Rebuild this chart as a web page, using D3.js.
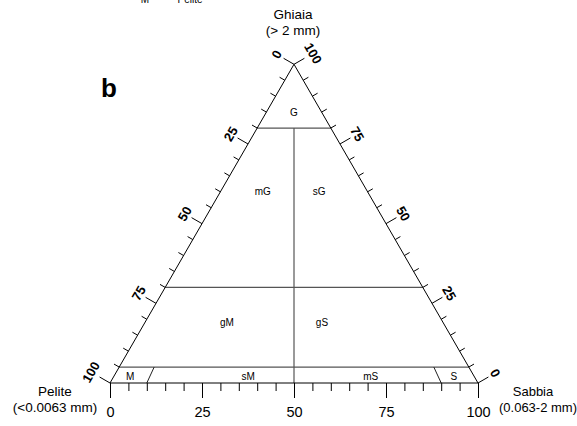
<!DOCTYPE html>
<html>
<head>
<meta charset="utf-8">
<script src="https://cdn.jsdelivr.net/npm/d3@7"></script>
<style>
  body { margin: 0; background: #fff; }
  text { font-family: Arial, "Liberation Sans", sans-serif; fill: #000; }
</style>
</head>
<body>
<svg id="chart" width="577" height="426"></svg>
<script>
// ticks along every side (percent)
const minorTicks = d3.range(0, 101, 5);
const majorTicks = [0, 25, 50, 75, 100];

// Folk class boundaries: gravel levels and sand/(sand+mud) ratios
const gravelLevels = [80, 30, 5];
const ratioLines = [
  { ratio: 0.5, from: 80 },
  { ratio: 0.1, from: 5 },
  { ratio: 0.9, from: 5 }
];

// class labels at (gravel %, sand %)
const classNames = ["G", "mG", "sG", "gM", "gS", "M", "sM", "mS", "S"];
const classGravel = [85, 60, 60, 19, 19, 1.9, 1.9, 1.9, 1.9];
const classSand = [7.5, 11.5, 26.8, 22.3, 48.1, 4.5, 36.6, 69.9, 92.5];

const svg = d3.select("#chart");

const xL = 110, xR = 478, yB = 383;
const side = xR - xL;
const yT = yB - side * Math.sqrt(3) / 2;

const x = d3.scaleLinear().domain([0, 100]).range([xL, xR]);
const yG = d3.scaleLinear().domain([0, 100]).range([yB, yT]);

// ternary point from gravel and sand percent
function pt(g, s) {
  return [x(s + g / 2), yG(g)];
}

const line = d3.line();

// internal class lines
const inner = svg.append("g")
  .attr("fill", "none")
  .attr("stroke", "#555")
  .attr("stroke-width", 1.2);

gravelLevels.forEach(g => {
  inner.append("path").attr("d", line([pt(g, 0), pt(g, 100 - g)]));
});

ratioLines.forEach(r => {
  inner.append("path")
    .attr("d", line([pt(r.from, (100 - r.from) * r.ratio), pt(0, 100 * r.ratio)]))
    .attr("stroke", r.ratio === 0.5 ? "#555" : "#222")
    .attr("stroke-width", r.ratio === 0.5 ? 1.2 : 1);
});

// triangle outline
svg.append("path")
  .attr("d", line([pt(0, 0), pt(0, 100), pt(100, 0)]) + "Z")
  .attr("fill", "none")
  .attr("stroke", "#000")
  .attr("stroke-width", 1);

// bottom axis (sand)
const bottomAxis = svg.append("g")
  .attr("transform", `translate(0,${yB})`)
  .call(d3.axisBottom(x)
    .tickValues(minorTicks)
    .tickSize(8)
    .tickPadding(0)
    .tickFormat(d => majorTicks.includes(d) ? d : ""));

bottomAxis.select(".domain").remove();
bottomAxis.selectAll(".tick line")
  .attr("stroke", "#000")
  .attr("y2", d => majorTicks.includes(d) ? 15 : 8);
bottomAxis.selectAll(".tick text")
  .attr("y", 29)
  .attr("dy", "0.32em")
  .style("font-size", "14.5px")
  .style("font-family", "Arial, 'Liberation Sans', sans-serif")
  .attr("fill", "#000");

// outward normals of the left and right sides
const nL = [-Math.sqrt(3) / 2, -0.5];
const nR = [Math.sqrt(3) / 2, -0.5];

function sideTicks(posFn, normal, labelFn, rotate) {
  const g = svg.append("g");
  g.selectAll("line")
    .data(minorTicks)
    .join("line")
    .attr("x1", d => posFn(d)[0])
    .attr("y1", d => posFn(d)[1])
    .attr("x2", d => posFn(d)[0] + normal[0] * (majorTicks.includes(d) ? 12 : 6))
    .attr("y2", d => posFn(d)[1] + normal[1] * (majorTicks.includes(d) ? 12 : 6))
    .attr("stroke", "#000")
    .attr("stroke-width", 1);

  g.selectAll("text")
    .data(majorTicks)
    .join("text")
    .attr("transform", d => {
      const p = posFn(d);
      const off = String(labelFn(d)).length > 2 ? 22 : 20;
      return `translate(${p[0] + normal[0] * off},${p[1] + normal[1] * off}) rotate(${rotate})`;
    })
    .attr("text-anchor", "middle")
    .attr("dy", "0.35em")
    .style("font-size", "13px")
    .style("font-weight", "bold")
    .text(labelFn);
}

// left: mud value m -> gravel = 100 - m, sand = 0
sideTicks(m => pt(100 - m, 0), nL, d => d, -60);
// right: gravel value g -> sand = 100 - g
sideTicks(g => pt(g, 100 - g), nR, d => d, 60);

// class labels
svg.append("g").selectAll("text")
  .data(classNames)
  .join("text")
  .attr("x", (d, i) => pt(classGravel[i], classSand[i])[0])
  .attr("y", (d, i) => pt(classGravel[i], classSand[i])[1])
  .attr("text-anchor", "middle")
  .attr("dy", "0.35em")
  .style("font-size", "10px")
  .attr("fill", "#222")
  .text(d => d);

// end member labels
function endLabel(lines, cx, cy, size) {
  svg.append("text")
    .attr("text-anchor", "middle")
    .style("font-size", size + "px")
    .selectAll("tspan")
    .data(lines)
    .join("tspan")
    .attr("x", (d, i) => Array.isArray(cx) ? cx[i] : cx)
    .attr("y", (d, i) => cy + i * 16)
    .text(d => d);
}

endLabel(["Ghiaia", "(> 2 mm)"], 293, 19, 13.5);
endLabel(["Pelite", "(<0.0063 mm)"], 55, 396, 13.5);
endLabel(["Sabbia", "(0.063-2 mm)"], [533, 538], 396, 13);

// panel letter
svg.append("text")
  .attr("x", 101)
  .attr("y", 97)
  .style("font-size", "26px")
  .style("font-weight", "bold")
  .text("b");

// text of the panel above, cut by the top edge as in the reference
svg.append("text").attr("x", 145).attr("y", 3).attr("text-anchor", "middle")
  .style("font-size", "10px").text("M");
svg.append("text").attr("x", 190).attr("y", 3).attr("text-anchor", "middle")
  .style("font-size", "10px").text("Pelite");
</script>
</body>
</html>
